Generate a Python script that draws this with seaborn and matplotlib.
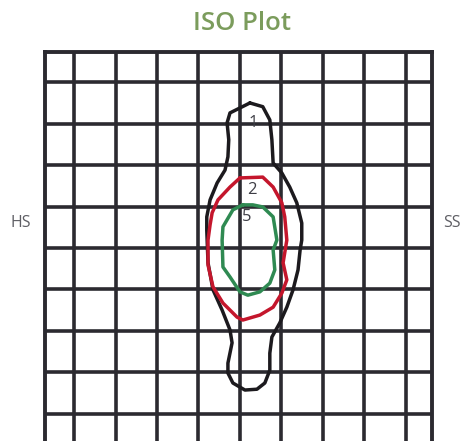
import seaborn as sns
import matplotlib.pyplot as plt
import pandas as pd

# contour lines traced in grid units (0,0 = centre crossing)
black_x = [0.24, 0.55, 0.72, 0.77, 0.80, 1.01, 1.20, 1.37, 1.49, 1.49, 1.45, 1.40, 1.28, 1.13,
           0.96, 0.77, 0.72, 0.72, 0.60, 0.41, 0.12, -0.17, -0.29, -0.29, -0.19, -0.24, -0.43,
           -0.65, -0.77, -0.80, -0.80, -0.72, -0.55, -0.36, -0.29, -0.27, -0.31, -0.24]
black_y = [3.50, 3.41, 3.09, 2.61, 2.05, 1.81, 1.47, 1.09, 0.60, 0.19, -0.05, -0.53, -1.01, -1.43,
           -1.81, -2.15, -2.54, -2.95, -3.26, -3.41, -3.43, -3.26, -3.02, -2.78, -2.29, -1.98, -1.50,
           -1.01, -0.36, 0.43, 0.75, 1.16, 1.57, 1.88, 2.20, 2.61, 3.02, 3.26]

red_x = [0.00, 0.55, 0.80, 1.01, 1.08, 1.13, 1.04, 1.13, 1.01, 0.80, 0.48, 0.07, -0.07, -0.41,
         -0.65, -0.77, -0.77, -0.72, -0.67, -0.53, -0.24]
red_y = [1.69, 1.71, 1.47, 1.09, 0.75, 0.19, -0.36, -0.77, -1.09, -1.43, -1.62, -1.74, -1.67, -1.33,
         -0.94, -0.41, 0.19, 0.56, 0.85, 1.16, 1.47]

green_x = [0.07, 0.31, 0.55, 0.80, 0.89, 0.80, 0.84, 0.72, 0.48, 0.19, 0.00, -0.24, -0.41, -0.43,
           -0.41, -0.17]
green_y = [1.04, 1.04, 0.99, 0.75, 0.19, -0.05, -0.53, -0.85, -1.06, -1.14, -1.06, -0.70, -0.46, 0.19,
           0.51, 0.92]

labels = ['1', '2', '5']
label_x = [0.31, 0.29, 0.17]
label_y = [3.02, 1.40, 0.75]

grid_ticks = [-4, -3, -2, -1, 0, 1, 2, 3, 4]

sns.set_style('white')
plt.rcParams['font.family'] = ['Open Sans', 'DejaVu Sans']

fig = plt.figure(figsize=(4.61, 4.41), dpi=100)
ax = fig.add_axes([45 / 461, 0, 387 / 461, 389 / 441])

grid_col = '#2b2a30'
for t in grid_ticks:
    ax.axvline(t, color=grid_col, lw=2.6, zorder=1)
    ax.axhline(t, color=grid_col, lw=2.6, zorder=1)


def closed(xs, ys):
    return pd.DataFrame({'x': xs + xs[:1], 'y': ys + ys[:1]})


for xs, ys, col in [(black_x, black_y, '#1c1a1e'),
                    (red_x, red_y, '#c4162c'),
                    (green_x, green_y, '#2f8a52')]:
    d = closed(xs, ys)
    sns.lineplot(data=d, x='x', y='y', sort=False, estimator=None, color=col,
                 lw=2.5, ax=ax, zorder=3)
    ax.lines[-1].set_solid_joinstyle('round')

for lab, lx, ly in zip(labels, label_x, label_y):
    ax.text(lx, ly, lab, fontsize=12, color='#3e3e46', ha='center', va='center', zorder=4)

ax.set_xlim(-4.70, 4.63)
ax.set_ylim(-4.66, 4.73)
ax.set_xticks([])
ax.set_yticks([])
ax.set_xlabel('')
ax.set_ylabel('')
for side in ['left', 'right', 'top']:
    ax.spines[side].set_color(grid_col)
    ax.spines[side].set_linewidth(2.8)
ax.spines['bottom'].set_visible(False)

fig.text(242 / 461, 1 - 24 / 441, 'ISO Plot', color='#7b9c5c', fontsize=18.5,
         fontweight='semibold', ha='center', va='center')
fig.text(21 / 461, 1 - 223 / 441, 'HS', color='#5e5e64', fontsize=11.5, ha='center', va='center')
fig.text(452 / 461, 1 - 223 / 441, 'SS', color='#5e5e64', fontsize=11.5, ha='center', va='center')

fig.savefig('out.png', dpi=100)
